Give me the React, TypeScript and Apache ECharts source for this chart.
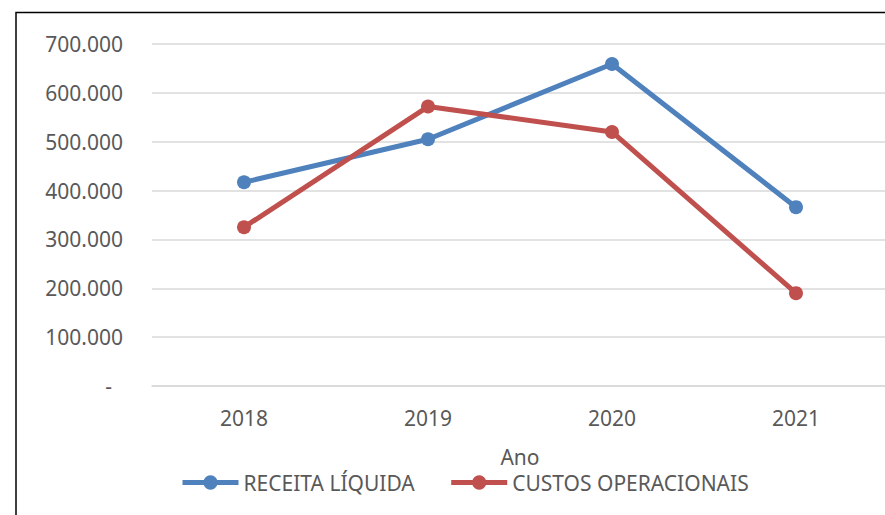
import React, { useEffect, useRef } from "react";
import * as echarts from "echarts";

const categories = ["2018", "2019", "2020", "2021"];
const receitaLiquida = [417000, 505000, 659000, 366000];
const custosOperacionais = [325000, 572000, 520000, 190000];
const seriesNames = ["RECEITA LÍQUIDA", "CUSTOS OPERACIONAIS"];
const xAxisTitle = "Ano";

const FONT = "'Noto Sans', sans-serif";
const TEXT_COLOR = "#595959";

function fmt(v: number): string {
  if (v === 0) return "{d|-}";
  return String(v).replace(/\B(?=(\d{3})+(?!\d))/g, ".");
}

export default function App() {
  const ref = useRef<HTMLDivElement>(null);
  useEffect(() => {
    if (!ref.current) return;
    const chart = echarts.init(ref.current, null, { renderer: "svg" });
    chart.setOption({
      animation: false,
      backgroundColor: "#ffffff",
      textStyle: { fontFamily: FONT },
      grid: { left: 152, right: 0, top: 44, bottom: 129, containLabel: false },
      graphic: [
        {
          type: "rect",
          shape: { x: 16, y: 12.5, width: 1000, height: 1000 },
          style: { fill: "none", stroke: "#000000", lineWidth: 1.5 },
          silent: true,
          z: 100,
        },
      ],
      legend: {
        left: 175,
        top: 467,
        itemWidth: 56,
        itemHeight: 18,
        itemGap: 34,
        data: seriesNames,
        lineStyle: { width: 5 },
        textStyle: { fontFamily: FONT, fontSize: 21, color: TEXT_COLOR },
      },
      xAxis: {
        type: "category",
        data: categories,
        boundaryGap: true,
        name: xAxisTitle,
        nameLocation: "middle",
        nameGap: 60,
        nameTextStyle: { fontFamily: FONT, fontSize: 21, color: TEXT_COLOR },
        axisLine: { show: true, lineStyle: { color: "#D9D9D9", width: 1.5 } },
        axisTick: { show: false },
        axisLabel: { fontFamily: FONT, fontSize: 21, color: TEXT_COLOR, margin: 21 },
      },
      yAxis: {
        type: "value",
        min: 0,
        max: 700000,
        interval: 100000,
        axisLine: { show: false },
        axisTick: { show: false },
        splitLine: { show: true, lineStyle: { color: "#D9D9D9", width: 1.5 } },
        axisLabel: {
          fontFamily: FONT,
          fontSize: 21,
          color: TEXT_COLOR,
          margin: 29,
          formatter: fmt,
          rich: { d: { fontFamily: FONT, fontSize: 21, color: TEXT_COLOR, padding: [0, 11, 0, 0] } },
        },
      },
      series: [
        {
          name: seriesNames[0],
          type: "line",
          data: receitaLiquida,
          symbol: "circle",
          symbolSize: 14,
          color: "#4F81BD",
          lineStyle: { width: 5, color: "#4F81BD" },
          itemStyle: { color: "#4F81BD" },
        },
        {
          name: seriesNames[1],
          type: "line",
          data: custosOperacionais,
          symbol: "circle",
          symbolSize: 14,
          color: "#C0504D",
          lineStyle: { width: 5, color: "#C0504D" },
          itemStyle: { color: "#C0504D" },
        },
      ],
    });
    return () => chart.dispose();
  }, []);
  return (
    <div style={{ position: "absolute", left: 0, top: 0, width: 885, height: 515, overflow: "hidden" }}>
      <div ref={ref} style={{ width: 888, height: 515 }} />
    </div>
  );
}
